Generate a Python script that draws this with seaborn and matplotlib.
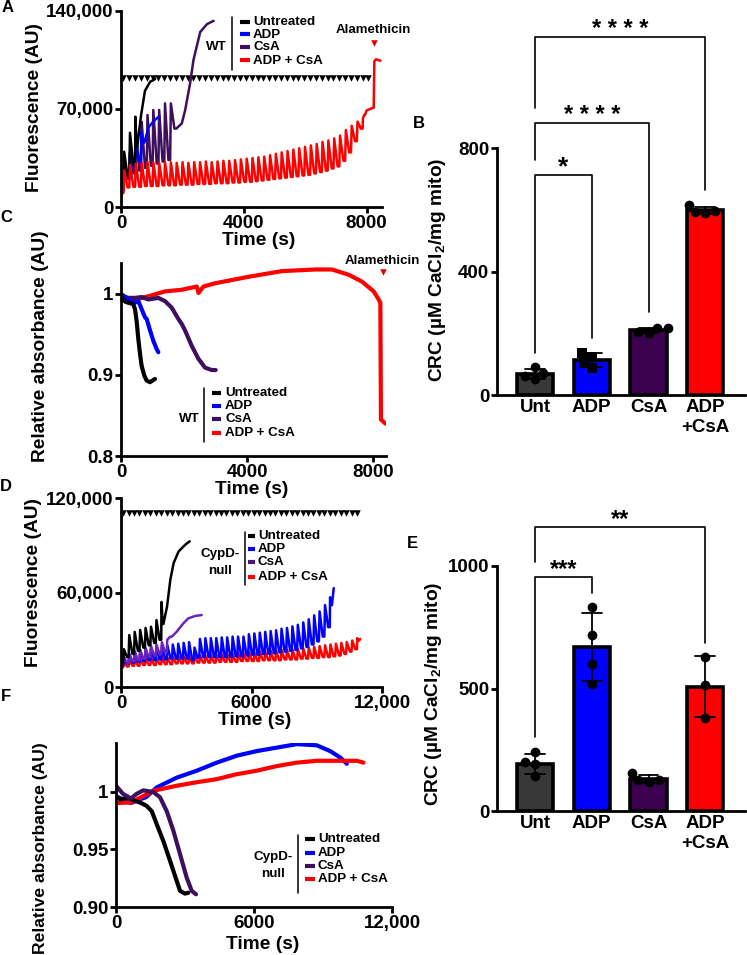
import numpy as np
import pandas as pd
import matplotlib
matplotlib.use("Agg")
import matplotlib.pyplot as plt
from matplotlib.lines import Line2D
import seaborn as sns

W, H = 747, 955

# ---------------- colours / labels ----------------
c_unt, c_adp, c_csa, c_mix = "black", "#0000ff", "#3d0f5c", "#ff0000"
c_csa_null = "#6c24c0"
bar_colors = ["#383838", "#0000ff", "#3c0050", "#ff0000"]
trace_labels = ["Untreated", "ADP", "CsA", "ADP + CsA"]
groups = ["Unt", "ADP", "CsA", "ADP\n+CsA"]

# ---------------- A: WT Calcium Green fluorescence ----------------
a_pulses = [80, 270, 460, 650, 840, 1030, 1220, 1410, 1600, 1790, 1980, 2170, 2360, 2550,
            2740, 2930, 3120, 3310, 3500, 3690, 3880, 4070, 4260, 4450, 4640, 4830, 5020,
            5210, 5400, 5590, 5780, 5970, 6160, 6350, 6540, 6730, 6920, 7110, 7300, 7490,
            7680, 7870, 8060]
a_mix_peaks = [26000, 30000, 31000, 31500, 32000, 32000, 31500, 32000, 32000, 31500, 32000,
               31500, 32000, 32000, 32500, 32000, 32500, 33000, 33000, 33500, 34000, 34500,
               35000, 35500, 36000, 37000, 38000, 39000, 40000, 41000, 42000, 43000, 44000,
               45000, 46500, 47500, 49000, 51000, 55000, 58000, 61000, 63500]
a_mix_troughs = [10000, 14000, 14500, 14500, 15000, 15000, 15000, 15500, 15500, 15500, 16000,
                 16000, 16000, 16500, 16500, 16500, 17000, 17000, 17000, 17500, 17500, 18000,
                 18000, 18500, 19000, 19500, 20000, 20500, 21000, 21500, 22000, 22500, 23000,
                 24000, 25000, 26000, 27500, 29000, 33000, 39000, 47000, 56000]
a_mix_tail_t = [7950, 8000, 8230, 8250, 8300, 8450]
a_mix_tail_v = [66000, 69000, 71000, 104000, 105500, 104500]
a_unt_peaks = [39500, 53000, 64500]
a_unt_troughs = [12000, 22000, 30000]
a_unt_tail_t = [530, 650, 780, 950, 1110]
a_unt_tail_v = [43000, 65000, 83000, 89500, 91400]
a_adp_peaks = [25000, 39500, 50200, 53800]
a_adp_troughs = [12000, 20000, 28000, 32000]
a_adp_tail_t = [760, 900, 1050, 1200, 1250]
a_adp_tail_v = [46000, 57000, 61000, 64000, 64500]
a_csa_peaks = [28000, 39500, 53800, 60900, 65700, 69300, 69300, 74000, 74000]
a_csa_troughs = [14000, 21700, 24000, 26000, 28000, 29500, 31000, 32500, 33600]
a_csa_tail_t = [1800, 1980, 2090, 2250, 2360, 2580, 2800, 3014]
a_csa_tail_v = [56000, 59700, 69300, 88300, 105000, 125000, 130600, 133000]
a_pulse_level = 92000

# ---------------- C: WT swelling (absorbance) ----------------
c_unt_t = [0, 60, 150, 250, 390, 444, 497, 550, 603, 655, 740, 814, 920, 1078]
c_unt_v = [1.0, 0.993, 0.99, 0.989, 0.987, 0.981, 0.966, 0.944, 0.926, 0.911, 0.899, 0.893, 0.891, 0.895]
c_adp_t = [0, 232, 444, 550, 655, 761, 814, 920, 1025, 1130, 1183]
c_adp_v = [1.0, 0.993, 0.989, 0.991, 0.981, 0.971, 0.969, 0.955, 0.942, 0.932, 0.928]
c_csa_t = [0, 232, 444, 655, 867, 1183, 1395, 1606, 1818, 1923, 2029, 2240, 2452, 2663, 2875, 3002]
c_csa_v = [0.998, 0.995, 0.995, 0.996, 0.993, 0.995, 0.991, 0.983, 0.969, 0.963, 0.955, 0.936,
           0.920, 0.909, 0.906, 0.906]
c_mix_t = [0, 240, 476, 868, 1397, 1926, 2403, 2456, 2614, 2984, 4042, 5101, 6159, 6688, 7217,
           7640, 8009, 8168, 8221, 8240, 8380]
c_mix_v = [0.993, 0.989, 0.993, 0.997, 1.003, 1.005, 1.009, 1.001, 1.009, 1.013, 1.021, 1.028,
           1.030, 1.030, 1.0235, 1.015, 1.003, 0.993, 0.989, 0.845, 0.840]

# ---------------- D: CypD-null fluorescence ----------------
d_pulses = [100, 350, 600, 850, 1100, 1350, 1600, 1850, 2100, 2350, 2600, 2850, 3100, 3350,
            3600, 3850, 4100, 4350, 4600, 4850, 5100, 5350, 5600, 5850, 6100, 6350, 6600, 6850,
            7100, 7350, 7600, 7850, 8100, 8350, 8600, 8850, 9100, 9350, 9600, 9850, 10100,
            10350, 10600, 10850]
d_unt_peaks = [24000, 33000, 35000, 36200, 37500, 38300, 42500, 54000]
d_unt_troughs = [14900, 19000, 21000, 23000, 25000, 26500, 28000, 30000]
d_unt_tail_t = [1950, 2116, 2268, 2420, 2650, 2958, 3156]
d_unt_tail_v = [40000, 51000, 68100, 78700, 86100, 90400, 92500]
d_csa_peaks = [19000, 21000, 22500, 23500, 24500, 26000, 27000, 28500, 30000]
d_csa_troughs = [14900, 15500, 16500, 17000, 18000, 19000, 20000, 21000, 22000]
d_csa_tail_t = [2330, 2560, 2866, 3096, 3404, 3710]
d_csa_tail_v = [31900, 35100, 40400, 43600, 45100, 45700]
d_adp_peaks = [18000, 21000, 22500, 23500, 24500, 25000, 25500, 26000, 26500, 27000, 27500,
               28000, 28500, 25000, 30500, 31000, 31000, 31000, 31500, 31500, 32000, 32000,
               32000, 33500, 34000, 34500, 35000, 35500, 36000, 37000, 37500, 38500, 39500,
               41000, 43000, 45500, 48000, 52000, 57000]
d_adp_troughs = [13500, 15000, 15500, 16000, 16500, 17000, 17000, 17500, 17500, 18000, 18000,
                 18000, 18000, 17000, 18500, 19000, 19000, 19000, 19000, 19000, 19000, 19500,
                 19500, 20000, 20500, 20500, 21000, 21000, 21500, 22000, 22500, 23000, 23500,
                 24500, 25500, 27000, 29000, 32000, 38000]
d_adp_tail_t = [9700, 9780]
d_adp_tail_v = [52000, 62800]
d_mix_peaks = [16000, 17000, 17500, 18000, 18000, 18500, 18500, 19000, 19000, 19000, 19500,
               19500, 19500, 20000, 20000, 20000, 20500, 20500, 20500, 21000, 21000, 21500,
               21500, 22000, 22000, 22500, 22500, 23000, 23000, 23500, 23500, 24000, 24000,
               24500, 25000, 25500, 26000, 26500, 27000, 27500, 28000, 28500, 29500, 31000]
d_mix_troughs = [12500, 13000, 13500, 13500, 14000, 14000, 14000, 14500, 14500, 14500, 15000,
                 15000, 15000, 15000, 15500, 15500, 15500, 15500, 16000, 16000, 16000, 16000,
                 16500, 16500, 16500, 16500, 17000, 17000, 17000, 17000, 17500, 17500, 17500,
                 18000, 18000, 18500, 18500, 19000, 19000, 19500, 20000, 21000, 22500, 24000]
d_mix_tail_t = [10950, 11000]
d_mix_tail_v = [29500, 30500]
d_pulse_level = 110600

# ---------------- F: CypD-null swelling ----------------
f_unt_t = [0, 200, 500, 800, 1100, 1335, 1553, 1770, 2060, 2350, 2640, 2785, 3000, 3147]
f_unt_v = [0.996, 0.993, 0.995, 0.992, 0.99, 0.9875, 0.983, 0.9717, 0.957, 0.94, 0.9226, 0.914,
           0.9116, 0.9124]
f_csa_t = [0, 300, 650, 900, 1190, 1624, 1914, 2205, 2495, 2785, 3074, 3292, 3480]
f_csa_v = [1.005, 0.998, 0.994, 0.998, 1.001, 0.9995, 0.995, 0.983, 0.966, 0.9457, 0.9254,
           0.914, 0.911]
f_adp_t = [0, 300, 650, 1000, 1300, 1770, 2640, 3510, 4380, 5250, 6120, 6990, 7860, 8730,
           9310, 9744, 10035]
f_adp_v = [0.996, 0.993, 0.99, 0.993, 0.995, 1.0035, 1.012, 1.018, 1.025, 1.031, 1.035, 1.038,
           1.041, 1.040, 1.035, 1.0295, 1.024]
f_mix_t = [0, 650, 1624, 2640, 3510, 4380, 5250, 6120, 6990, 7860, 8730, 9600, 10470, 10760]
f_mix_v = [0.99, 0.9905, 1.0006, 1.005, 1.008, 1.0107, 1.015, 1.018, 1.022, 1.025, 1.0266,
           1.0266, 1.0266, 1.025]

# ---------------- B / E: CRC per replicate ----------------
b_unt = [90, 72, 63, 52]
b_adp = [137, 124, 105, 86]
b_csa = [218, 216, 200, 205]
b_mix = [616, 595, 589, 592]
e_unt = [241, 200, 191, 142]
e_adp = [834, 720, 602, 520]
e_csa = [155, 128, 125, 120]
e_mix = [629, 513, 381]

# ---------------- style ----------------
sns.set_style("ticks")
plt.rcParams.update({
    "font.family": ["Liberation Sans", "DejaVu Sans"],
    "font.weight": "bold",
    "text.color": "black",
    "axes.edgecolor": "black",
    "axes.labelcolor": "black",
    "xtick.color": "black",
    "ytick.color": "black",
    "axes.linewidth": 2.0,
    "xtick.major.width": 2.0,
    "ytick.major.width": 2.0,
    "xtick.major.size": 4,
    "ytick.major.size": 4,
    "xtick.major.pad": 1.5,
    "ytick.major.pad": 1.5,
    "xtick.labelsize": 13.5,
    "ytick.labelsize": 13.5,
    "mathtext.fontset": "custom",
    "mathtext.rm": "Liberation Sans:bold",
    "mathtext.it": "Liberation Sans:bold",
    "mathtext.bf": "Liberation Sans:bold",
})

fig = plt.figure(figsize=(W / 100, H / 100), dpi=100)
TICK_FS = 13.5


def ax_at(l, t, r, b):
    return fig.add_axes([l / W, 1 - b / H, (r - l) / W, (b - t) / H])


def ftxt(x, y, s, **kw):
    kw.setdefault("ha", "center")
    kw.setdefault("va", "center")
    fig.text(x / W, 1 - y / H, s, **kw)


def fline(xs, ys, **kw):
    fig.add_artist(Line2D([x / W for x in xs], [1 - y / H for y in ys],
                          transform=fig.transFigure, **kw))


def sawtooth(v0, pulses, troughs, peaks, tail_t, tail_v):
    t, v = [0], [v0]
    n = len(pulses)
    for i in range(n):
        p = pulses[i]
        if i + 1 < n:
            nxt_t, nxt_v = pulses[i + 1], troughs[i + 1]
        else:
            nxt_t, nxt_v = tail_t[0], tail_v[0]
        step = nxt_t - p
        t += [p, p + 0.12 * step, p + 0.7 * step]
        v += [troughs[i], peaks[i], nxt_v]
    return t + list(tail_t), v + list(tail_v)


def trace(ax, t, v, color, lw):
    sns.lineplot(x=t, y=v, ax=ax, color=color, linewidth=lw, sort=False, estimator=None)


def group_legend(vx, vy0, vy1, group_txt, gx, gys, hx0, hx1, tx, ys, colors):
    fline([vx, vx], [vy0, vy1], color="black", lw=1.1)
    for s, gy in zip(group_txt, gys):
        ftxt(gx, gy, s, fontsize=9.6)
    for lab, y, c in zip(trace_labels, ys, colors):
        fline([hx0, hx1], [y, y], color=c, lw=3.0, solid_capstyle="butt")
        ftxt(tx, y, lab, fontsize=9.6, ha="left")


def style_trace_axes(ax):
    sns.despine(ax=ax)
    ax.set_xlabel("")
    ax.set_ylabel("")
    ax.tick_params(labelsize=TICK_FS)


# ================= A =================
axA = ax_at(121, 11, 382, 207)
t, v = sawtooth(12000, a_pulses[:9], a_csa_troughs, a_csa_peaks, a_csa_tail_t, a_csa_tail_v)
trace(axA, t, v, c_csa, 1.8)
t, v = sawtooth(8000, a_pulses[:4], a_adp_troughs, a_adp_peaks, a_adp_tail_t, a_adp_tail_v)
trace(axA, t, v, c_adp, 1.8)
t, v = sawtooth(9000, a_pulses[:3], a_unt_troughs, a_unt_peaks, a_unt_tail_t, a_unt_tail_v)
trace(axA, t, v, c_unt, 1.8)
t, v = sawtooth(9000, a_pulses[:42], a_mix_troughs, a_mix_peaks, a_mix_tail_t, a_mix_tail_v)
trace(axA, t, v, c_mix, 1.8)
sns.scatterplot(x=a_pulses, y=[a_pulse_level] * len(a_pulses), ax=axA, marker="v",
                color="black", s=22, linewidth=0)
axA.scatter([8255], [117000], marker="v", color="#e00000", s=22, linewidth=0, clip_on=False)
axA.text(8230, 126500, "Alamethicin", fontsize=9.5, ha="center", va="center")
axA.set_xlim(0, 8500)
axA.set_ylim(0, 140000)
axA.set_xticks([0, 4000, 8000])
axA.set_yticks([0, 70000, 140000])
axA.set_yticklabels(["0", "70,000", "140,000"])
style_trace_axes(axA)
ftxt(35, 107, "Fluorescence (AU)", rotation=90, fontsize=13.8)
ftxt(259, 240, "Time (s)", fontsize=13.8)
group_legend(232, 17, 70, ["WT"], 216, [47], 240, 250, 253, [22, 34.5, 47, 60.5],
             [c_unt, c_adp, c_csa, c_mix])

# ================= C =================
axC = ax_at(121, 263, 386, 456)
trace(axC, c_mix_t, c_mix_v, c_mix, 3.0)
trace(axC, c_csa_t, c_csa_v, c_csa, 3.0)
trace(axC, c_adp_t, c_adp_v, c_adp, 3.0)
trace(axC, c_unt_t, c_unt_v, c_unt, 3.0)
axC.scatter([8300], [1.027], marker="v", color="#e00000", s=22, linewidth=0, clip_on=False)
axC.text(8300, 1.0405, "Alamethicin", fontsize=9.5, ha="center", va="center")
axC.set_xlim(0, 8400)
axC.set_ylim(0.8, 1.038)
axC.set_xticks([0, 4000, 8000])
axC.set_yticks([0.8, 0.9, 1.0])
axC.set_yticklabels(["0.8", "0.9", "1"])
style_trace_axes(axC)
ftxt(41, 346, "Relative absorbance (AU)", rotation=90, fontsize=13.8)
ftxt(252, 489, "Time (s)", fontsize=13.8)
group_legend(204, 388, 442, ["WT"], 189, [419], 212, 221, 225, [393, 406, 419, 433],
             [c_unt, c_adp, c_csa, c_mix])

# ================= D =================
axD = ax_at(121, 498, 382, 687)
t, v = sawtooth(12000, d_pulses, d_mix_troughs, d_mix_peaks, d_mix_tail_t, d_mix_tail_v)
trace(axD, t, v, c_mix, 1.8)
t, v = sawtooth(13000, d_pulses[:39], d_adp_troughs, d_adp_peaks, d_adp_tail_t, d_adp_tail_v)
trace(axD, t, v, c_adp, 1.8)
t, v = sawtooth(13000, d_pulses[:9], d_csa_troughs, d_csa_peaks, d_csa_tail_t, d_csa_tail_v)
trace(axD, t, v, c_csa_null, 1.8)
t, v = sawtooth(14000, d_pulses[:8], d_unt_troughs, d_unt_peaks, d_unt_tail_t, d_unt_tail_v)
trace(axD, t, v, c_unt, 1.8)
sns.scatterplot(x=d_pulses, y=[d_pulse_level] * len(d_pulses), ax=axD, marker="v",
                color="black", s=22, linewidth=0)
axD.set_xlim(0, 12000)
axD.set_ylim(0, 120000)
axD.set_xticks([0, 6000, 12000])
axD.set_xticklabels(["0", "6000", "12,000"])
axD.set_yticks([0, 60000, 120000])
axD.set_yticklabels(["0", "60,000", "120,000"])
style_trace_axes(axD)
ftxt(34, 582, "Fluorescence (AU)", rotation=90, fontsize=13.8)
ftxt(255, 720, "Time (s)", fontsize=13.8)
group_legend(245, 532, 585, ["CypD-", "null"], 220, [554, 571], 248, 255, 258,
             [536, 549, 562, 577], [c_unt, c_adp, "#4a1a78", c_mix])

# ================= F =================
axF = ax_at(116, 743, 392, 907)
trace(axF, f_adp_t, f_adp_v, c_adp, 3.0)
trace(axF, f_mix_t, f_mix_v, c_mix, 3.0)
trace(axF, f_unt_t, f_unt_v, c_unt, 3.0)
trace(axF, f_csa_t, f_csa_v, c_csa, 3.0)
axF.set_xlim(0, 12000)
axF.set_ylim(0.90, 1.042)
axF.set_xticks([0, 6000, 12000])
axF.set_xticklabels(["0", "6000", "12,000"])
axF.set_yticks([0.90, 0.95, 1.0])
axF.set_yticklabels(["0.90", "0.95", "1"])
style_trace_axes(axF)
ftxt(41, 848, "Relative absorbance (AU)", rotation=90, fontsize=12.6)
ftxt(263, 944, "Time (s)", fontsize=13.8)
group_legend(298, 835, 893, ["CypD-", "null"], 273, [857, 874], 305, 315, 318,
             [839, 853, 866, 879], [c_unt, c_adp, c_csa, c_mix])


# ================= bar panels =================
def crc_panel(ax, vals, ymax, yticks, brackets, square_group=None):
    df = pd.DataFrame({"group": np.repeat(groups, [len(x) for x in vals]),
                       "crc": np.concatenate(vals)})
    sns.barplot(data=df, x="group", y="crc", order=groups, hue="group", hue_order=groups,
                palette=bar_colors, saturation=1, legend=False, errorbar="sd", capsize=0.35,
                width=0.64, err_kws={"color": "black", "linewidth": 1.3}, edgecolor="black",
                linewidth=2.6, ax=ax)
    circ = df if square_group is None else df[df["group"] != square_group]
    sns.swarmplot(data=circ, x="group", y="crc", order=groups, color="black", size=7,
                  ax=ax, zorder=5)
    if square_group is not None:
        sq = df[df["group"] == square_group]
        sns.swarmplot(data=sq, x="group", y="crc", order=groups, color="black", size=7,
                      marker="s", ax=ax, zorder=5)
    ax.set_xlim(-0.67, 3.7)
    ax.set_ylim(0, ymax)
    ax.set_yticks(yticks)
    ax.set_xlabel("")
    ax.set_ylabel("")
    ax.tick_params(labelsize=TICK_FS)
    ax.tick_params(axis="x", length=0, pad=3)
    sns.despine(ax=ax)
    for x0, x1, y, y0, y1, lab, fs in brackets:
        ax.plot([x0, x0, x1, x1], [y0, y, y, y1], color="black", lw=1.2, clip_on=False)
        ax.text((x0 + x1) / 2, y + ymax * 0.004, lab, fontsize=fs, ha="center",
                va="baseline")


axB = ax_at(497, 148, 745, 395)
crc_panel(axB, [b_unt, b_adp, b_csa, b_mix], 800, [0, 400, 800],
          [(0, 3, 1160, 929, 664, "* * * *", 17),
           (0, 2, 880, 761, 270, "* * * *", 17),
           (0, 1, 713, 135, 184, "*", 19)], square_group="ADP")
ftxt(438, 270, r"CRC (µM CaCl$_2$/mg mito)", rotation=90, fontsize=13.8)

axE = ax_at(497, 566, 745, 811)
crc_panel(axE, [e_unt, e_adp, e_csa, e_mix], 1000, [0, 500, 1000],
          [(0, 3, 1160, 1018, 684, "**", 17),
           (0, 1, 954, 303, 891, "***", 17)])
ftxt(434, 694, r"CRC (µM CaCl$_2$/mg mito)", rotation=90, fontsize=13.8)

# panel letters
for s, x, y in [("A", 8, 7), ("B", 419, 124), ("C", 6, 217), ("D", 6, 486),
                ("E", 412, 543), ("F", 6, 696)]:
    ftxt(x, y, s, fontsize=12)

fig.savefig("out.png", dpi=100)
